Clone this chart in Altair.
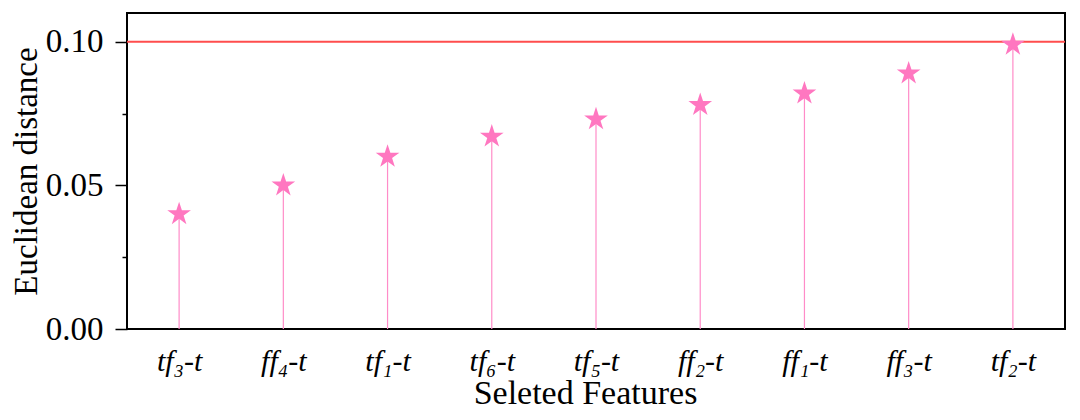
import altair as alt
import pandas as pd

features = ["tf₃-t", "ff₄-t", "tf₁-t", "tf₆-t", "tf₅-t", "ff₂-t", "ff₁-t", "ff₃-t", "tf₂-t"]
distances = [0.040, 0.050, 0.060, 0.067, 0.073, 0.078, 0.082, 0.089, 0.099]
threshold = [0.10]

df = pd.DataFrame({"feature": features, "distance": distances})
thr = pd.DataFrame({"t": threshold})

STAR = ("M0,-1 L0.2245,-0.309 L0.9511,-0.309 L0.3633,0.118 L0.5878,0.809 "
        "L0,0.382 L-0.5878,0.809 L-0.3633,0.118 L-0.9511,-0.309 L-0.2245,-0.309 Z")

FONT = "Liberation Serif"
MAJOR = "abs(datum.value*100 % 5) < 0.001 || abs(datum.value*100 % 5 - 5) < 0.001"

x = alt.X("feature:N", sort=features, title="Seleted Features",
          scale=alt.Scale(type="point", padding=0.5),
          axis=alt.Axis(labelAngle=0, ticks=False, domain=False, labelFont=FONT,
                        labelFontSize=30, labelFontStyle="italic", labelColor="black",
                        labelPadding=17, titleFont=FONT, titleFontSize=34,
                        titleFontWeight="normal", titleColor="black", titlePadding=0,
                        titleX=458))
y = alt.Y("distance:Q", title="Euclidean distance",
          scale=alt.Scale(domain=[0, 0.11], nice=False, zero=True),
          axis=alt.Axis(values=[0, 0.025, 0.05, 0.075, 0.1], format=".2f",
                        labelExpr=MAJOR + " ? datum.label : ''",
                        grid=False, domain=False, tickColor="black", tickWidth=1.5,
                        tickSize={"condition": {"test": MAJOR, "value": 12}, "value": 5},
                        labelFont=FONT, labelFontSize=33, labelColor="black", labelPadding=12,
                        titleFont=FONT, titleFontSize=33, titleFontWeight="normal",
                        titleColor="black", titlePadding=2))

base = alt.Chart(df)
stems = base.mark_rule(color="#ff8cc8", strokeWidth=1.2).encode(
    x=x, y=alt.Y("distance:Q"), y2=alt.datum(0))
stars = base.mark_point(shape=STAR, filled=True, size=620, color="#ff77c0", opacity=1).encode(
    x=x, y=y)
line = alt.Chart(thr).mark_rule(color="#ff4d4d", strokeWidth=2.2).encode(y=alt.Y("t:Q"))

chart = alt.layer(stems, line, stars).properties(
    width=938, height=316,
    autosize=alt.AutoSizeParams(type="none"),
    padding={"left": 119, "top": 5, "right": 7, "bottom": 80},
).configure(background="white", view=alt.ViewConfig(stroke="black", strokeWidth=2))

chart.save("out.html", embed_options={"renderer": "svg", "actions": False})
